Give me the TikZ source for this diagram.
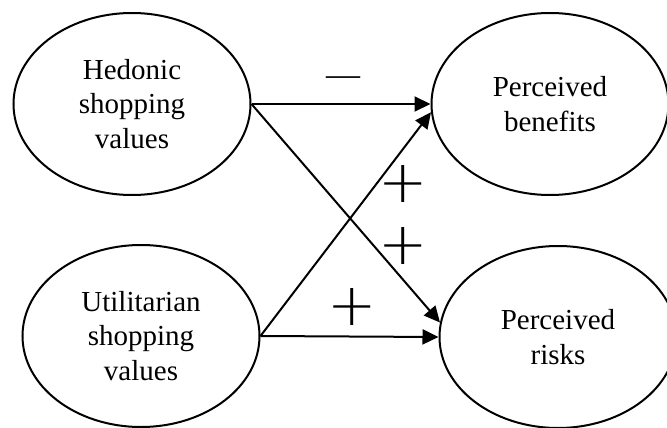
\documentclass[tikz,border=0pt]{standalone}
\usepackage{fontspec}
\setmainfont{Liberation Serif}
\newfontfamily\signfont{DejaVu Sans ExtraLight}
\usetikzlibrary{arrows.meta,shapes.geometric}
\begin{document}
\begin{tikzpicture}[x=1pt,y=-1pt,
  construct/.style={draw, line width=2pt, ellipse, minimum width=237pt,
    minimum height=182pt, inner sep=0pt, align=center,
    font=\fontsize{29}{34.5}\selectfont},
  link/.style={line width=2pt, -{Triangle[length=16pt,width=15pt]}},
  sign/.style={inner sep=0pt, font=\signfont\fontsize{59}{59}\selectfont}
]
\useasboundingbox (0,0) rectangle (667,428);

% constructs
\node[construct] (hed)  at (132,104) {Hedonic\\shopping\\values};
\node[construct] (util) at (141,336) {Utilitarian\\shopping\\values};
\node[construct] (ben)  at (550,104) {Perceived\\benefits};
\node[construct] (risk) at (558,337) {Perceived\\risks};

% hypothesised paths
\draw[link] (hed.east)  -- (ben.west);
\draw[link] (hed.east)  -- (risk.173);
\draw[link] (util.east) -- (ben.184);
\draw[link] (util.east) -- (risk.west);

% signs of the effects
\node[inner sep=0pt, anchor=base, font=\fontsize{34}{34}\selectfont] (s1) at (343,85) {—};
\node[sign] (s2) at (403,184) {+};
\node[sign] (s3) at (403,246) {+};
\node[sign] (s4) at (352,307) {+};
\end{tikzpicture}
\end{document}
